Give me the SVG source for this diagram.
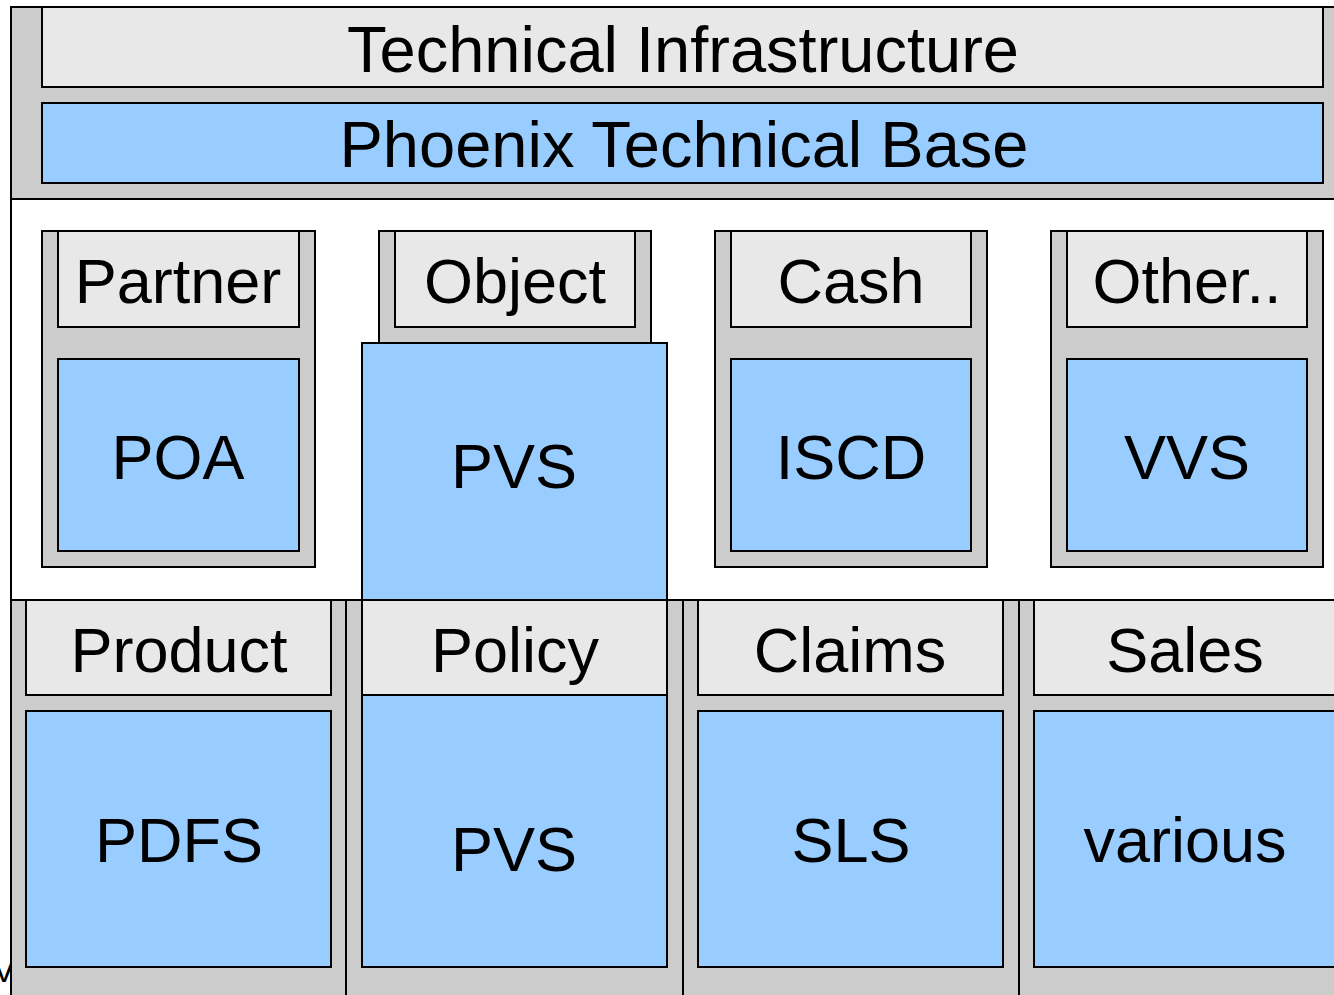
<svg xmlns="http://www.w3.org/2000/svg" width="1334" height="995" viewBox="0 0 1334 995">
<style>
.g{fill:#cccccc;stroke:#000;stroke-width:2}
.h{fill:#e8e8e8;stroke:#000;stroke-width:2}
.b{fill:#99ccff;stroke:#000;stroke-width:2}
.w{fill:#ffffff;stroke:#000;stroke-width:2}
text{font-family:"Liberation Sans",Arial,sans-serif;fill:#000;text-anchor:middle}
.t{font-size:65px}
.l{font-size:63px}
</style>
<rect x="0" y="0" width="1334" height="995" fill="#ffffff"/>
<text x="4" y="982" style="font-size:33px">V</text>
<g id="top-panel">
<rect class="g" x="11" y="7" width="1340" height="192"/>
<g id="technical-infrastructure">
<rect class="h" x="42" y="7" width="1281" height="80"/>
<text class="t" x="683" y="72">Technical Infrastructure</text>
</g>
<g id="phoenix-technical-base">
<rect class="b" x="42" y="103" width="1281" height="80"/>
<text class="t" x="684" y="167">Phoenix Technical Base</text>
</g>
</g>
<rect class="w" x="11" y="199" width="1340" height="401"/>
<g id="partner">
<rect class="g" x="42" y="231" width="273" height="336"/>
<rect class="h" x="58" y="231" width="241" height="96"/>
<text class="l" x="178" y="303">Partner</text>
<rect class="b" x="58" y="359" width="241" height="192"/>
<text class="l" x="178" y="479">POA</text>
</g>
<g id="object">
<rect class="g" x="379" y="231" width="272" height="112"/>
<rect class="h" x="395" y="231" width="240" height="96"/>
<text class="l" x="515" y="303">Object</text>
</g>
<g id="cash">
<rect class="g" x="715" y="231" width="272" height="336"/>
<rect class="h" x="731" y="231" width="240" height="96"/>
<text class="l" x="851" y="303">Cash</text>
<rect class="b" x="731" y="359" width="240" height="192"/>
<text class="l" x="851" y="479">ISCD</text>
</g>
<g id="other">
<rect class="g" x="1051" y="231" width="272" height="336"/>
<rect class="h" x="1067" y="231" width="240" height="96"/>
<text class="l" x="1187" y="303">Other..</text>
<rect class="b" x="1067" y="359" width="240" height="192"/>
<text class="l" x="1187" y="479">VVS</text>
</g>
<g id="pvs-object">
<rect class="b" x="362" y="343" width="305" height="257"/>
<text class="l" x="514" y="488">PVS</text>
</g>
<g id="product">
<rect class="g" x="11" y="600" width="335" height="410"/>
<rect class="h" x="26" y="600" width="305" height="95"/>
<text class="l" x="179" y="672">Product</text>
<rect class="b" x="26" y="711" width="305" height="256"/>
<text class="l" x="179" y="862">PDFS</text>
</g>
<g id="policy">
<rect class="g" x="346" y="600" width="337" height="410"/>
<rect class="h" x="362" y="600" width="305" height="95"/>
<text class="l" x="515" y="672">Policy</text>
<rect class="b" x="362" y="695" width="305" height="272"/>
<text class="l" x="514" y="871">PVS</text>
</g>
<g id="claims">
<rect class="g" x="683" y="600" width="336" height="410"/>
<rect class="h" x="698" y="600" width="305" height="95"/>
<text class="l" x="850" y="672">Claims</text>
<rect class="b" x="698" y="711" width="305" height="256"/>
<text class="l" x="851" y="862">SLS</text>
</g>
<g id="sales">
<rect class="g" x="1019" y="600" width="340" height="410"/>
<rect class="h" x="1034" y="600" width="320" height="95"/>
<text class="l" x="1185" y="672">Sales</text>
<rect class="b" x="1034" y="711" width="320" height="256"/>
<text class="l" x="1185" y="862">various</text>
</g>
<g id="connectors"/>
</svg>
